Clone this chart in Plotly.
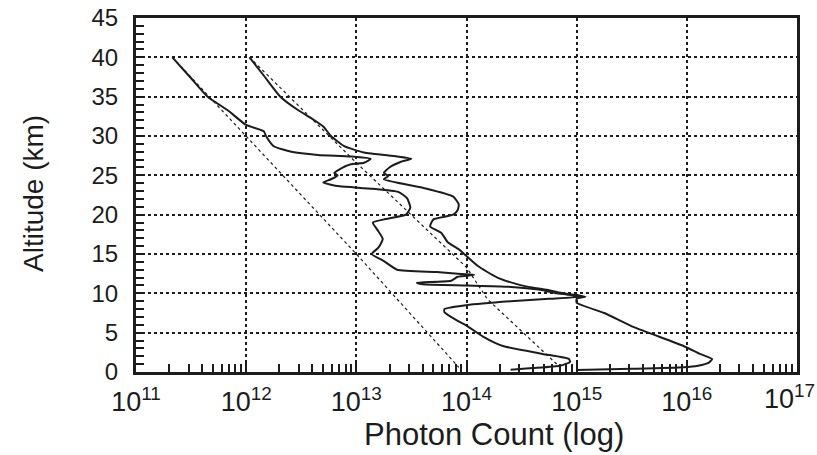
import plotly.graph_objects as go

# ---- data (log10 of photon count, altitude km) ----
a_alt = [40, 37.5, 35, 33.3, 31.4, 30.6, 30.0, 28.7, 28.0, 27.6, 27.4, 27.1, 26.6, 26.4,
         25.7, 25.3, 25.0, 24.5, 24.1, 23.8, 23.6, 23.3, 22.9, 22.1, 20.9, 20.0, 19.4,
         19.0, 18.1, 16.9, 15.8, 15.0, 14.1, 13.0, 12.7, 12.45, 12.35, 12.1, 11.6, 11.35,
         11.15, 11.0, 10.85, 10.45, 10.0, 9.6, 9.3, 9.0, 8.5, 8.0, 7.6, 6.5, 5.9, 4.5,
         3.3, 2.3, 1.65, 1.3, 0.8, 0.5, 0.3]
a_log = [11.33, 11.49, 11.65, 11.83, 12.0, 12.16, 12.18, 12.25, 12.41, 12.65, 12.95, 13.13,
         13.07, 12.95, 12.84, 12.80, 12.83, 12.77, 12.70, 12.77, 12.85, 13.15, 13.38, 13.46,
         13.49, 13.45, 13.25, 13.15, 13.19, 13.24, 13.20, 13.14, 13.25, 13.37, 13.73, 13.95,
         14.07, 13.92, 13.86, 13.55, 13.60, 14.0, 14.37, 14.67, 14.82, 15.05, 14.75, 14.4,
         14.0, 13.8, 13.8, 13.92, 14.0, 14.15, 14.33, 14.69, 14.93, 14.94, 14.85, 14.6, 14.4]

b_alt = [40, 37.5, 35, 33.3, 32, 31.2, 30, 28.7, 27.9, 27.4, 27.1, 26.7, 26.0, 25.3, 24.9,
         24.5, 23.4, 22.3, 21.3, 20.6, 20.0, 19.4, 18.5, 17.7, 16.5, 15.6, 13.5, 12.0, 11.2,
         10.7, 10.4, 10.0, 9.6, 9.3, 8.8, 7.5, 5.7, 3.3, 2.3, 1.65, 1.2, 0.8, 0.6, 0.4, 0.25]
b_log = [12.03, 12.17, 12.31, 12.47, 12.62, 12.70, 12.77, 12.89, 13.07, 13.37, 13.50, 13.40,
         13.30, 13.25, 13.29, 13.25, 13.61, 13.88, 13.93, 13.92, 13.88, 13.70, 13.67, 13.77,
         13.83, 13.93, 14.10, 14.28, 14.45, 14.61, 14.75, 14.88, 15.08, 15.0, 15.0, 15.25,
         15.52, 15.97, 16.12, 16.23, 16.2, 16.1, 15.97, 15.5, 15.0]

t1_alt = [40, 30, 15, 0.6]
t1_log = [11.33, 12.0, 13.0, 13.93]
t2_alt = [40, 26.6, 13.3, 9.25, 0.6]
t2_log = [12.03, 13.0, 14.0, 14.19, 14.85]

x_tickvals = [1e11, 1e12, 1e13, 1e14, 1e15, 1e16, 1e17]
x_exponents = ["11", "12", "13", "14", "15", "16", "17"]
y_tickvals = [0, 5, 10, 15, 20, 25, 30, 35, 40, 45]
x_title = "Photon Count (log)"
y_title = "Altitude (km)"

ink = "#1c1c1c"
FONT = "Liberation Sans, Arial, sans-serif"

def tolin(v):
    return [10 ** e for e in v]

x_ticktext = ["10<sup>%s</sup>" % e for e in x_exponents]
# the last label sits at the right edge of the page; it is drawn as an
# annotation pulled slightly inward so it is not clipped
last_label = x_ticktext[-1]
x_ticktext_axis = x_ticktext[:-1] + [""]

fig = go.Figure()
for alt, lg in [(t1_alt, t1_log), (t2_alt, t2_log)]:
    fig.add_trace(go.Scatter(x=tolin(lg), y=alt, mode="lines",
                             line=dict(color=ink, width=1.2, dash="dot"),
                             showlegend=False, hoverinfo="skip"))
for alt, lg in [(a_alt, a_log), (b_alt, b_log)]:
    fig.add_trace(go.Scatter(x=tolin(lg), y=alt, mode="lines",
                             line=dict(color=ink, width=2, shape="spline", smoothing=0.5),
                             showlegend=False))

fig.update_layout(
    width=817, height=455,
    margin=dict(l=136, r=20, t=18, b=83, autoexpand=False),
    paper_bgcolor="white", plot_bgcolor="white",
    font=dict(family=FONT, color=ink, size=24),
)
fig.update_xaxes(
    type="log", range=[11, 17], automargin=False,
    tickvals=x_tickvals, ticktext=x_ticktext_axis,
    tickfont=dict(size=27),
    ticks="inside", ticklen=9, tickwidth=1.5, tickcolor=ink,
    ticklabelstandoff=4,
    minor=dict(ticks="inside", ticklen=8, tickwidth=1.5, tickcolor=ink,
               dtick="D1", showgrid=False),
    showgrid=True, gridcolor=ink, gridwidth=1.5, griddash="dot",
    showline=True, linewidth=3, linecolor=ink, mirror=True,
    zeroline=False,
)
fig.update_yaxes(
    range=[0, 45], tickvals=y_tickvals, automargin=False,
    tickfont=dict(size=24),
    ticks="inside", ticklen=8, tickwidth=1.5, tickcolor=ink,
    ticklabelstandoff=10,
    minor=dict(ticks="inside", ticklen=8, tickwidth=1.5, tickcolor=ink,
               dtick=1, showgrid=False),
    showgrid=True, gridcolor=ink, gridwidth=1.5, griddash="dot",
    showline=True, linewidth=3, linecolor=ink, mirror=True,
    zeroline=False,
)
fig.add_annotation(text=last_label, xref="paper", yref="paper",
                   x=(816 - 136) / 661, y=(372 - 379) / 354,
                   xanchor="right", yanchor="top", showarrow=False,
                   borderpad=0, font=dict(size=27, family=FONT, color=ink))
fig.add_annotation(text=x_title, xref="paper", yref="paper",
                   x=(494 - 136) / 661, y=(372 - 434) / 354,
                   xanchor="center", yanchor="middle", showarrow=False,
                   font=dict(size=31, family=FONT, color=ink))
fig.add_annotation(text=y_title, xref="paper", yref="paper",
                   x=(33 - 136) / 661, y=(372 - 194) / 354, textangle=-90,
                   xanchor="center", yanchor="middle", showarrow=False,
                   font=dict(size=28, family=FONT, color=ink))

fig.write_html("out.html", config={"displayModeBar": False},
               post_script="document.body.style.margin='0';document.body.style.overflow='hidden';")
